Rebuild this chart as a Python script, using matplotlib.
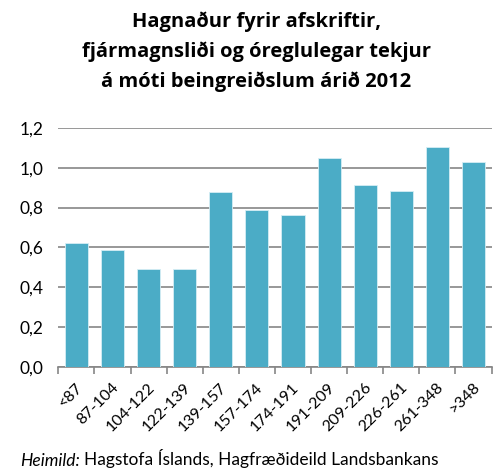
import matplotlib.pyplot as plt
import matplotlib.transforms as mtransforms
import numpy as np

plt.rcParams['font.family'] = ['Lato', 'DejaVu Sans']

flokkar = ['<87', '87-104', '104-122', '122-139', '139-157', '157-174', '174-191',
           '191-209', '209-226', '226-261', '261-348', '>348']
gildi = [0.62, 0.585, 0.49, 0.493, 0.876, 0.79, 0.764, 1.048, 0.913, 0.881, 1.103, 1.027]
yticks = [0.0, 0.2, 0.4, 0.6, 0.8, 1.0, 1.2]

fig = plt.figure(figsize=(4.99, 4.75), dpi=100)
ax = fig.add_axes([0.117, 0.227, 0.868, 0.504])

x = np.arange(len(flokkar))
ax.bar(x, gildi, width=0.64, color='#4BACC6', edgecolor='#D6EEF4', linewidth=0.6, zorder=3)

ax.set_xlim(-0.5, len(flokkar) - 0.5)
ax.set_ylim(0, 1.2)
ax.set_yticks(yticks)
ax.set_yticklabels([f'{v:.1f}'.replace('.', ',') for v in yticks], fontsize=12.5)
ax.yaxis.grid(True, color='#868686', linewidth=1.2, zorder=0)
ax.tick_params(axis='y', length=0, pad=11)

# category ticks at boundaries, labels at centres
ax.set_xticks(np.arange(-0.5, len(flokkar)), minor=False)
ax.set_xticklabels([''] * (len(flokkar) + 1))
ax.set_xticks(x, minor=True)
ax.set_xticklabels(flokkar, minor=True, rotation=45, ha='right', va='center',
                   rotation_mode='anchor', fontsize=11.5)
ax.tick_params(axis='x', which='major', length=5, color='#868686', width=1.2)
ax.tick_params(axis='x', which='minor', length=0, pad=13)
shift = mtransforms.ScaledTranslation(4 / 100, 0, fig.dpi_scale_trans)
for lbl in ax.get_xticklabels(minor=True):
    lbl.set_transform(lbl.get_transform() + shift)

for s in ['top', 'right', 'left']:
    ax.spines[s].set_visible(False)
ax.spines['bottom'].set_color('#868686')
ax.spines['bottom'].set_linewidth(1.2)

titill = ['Hagnaður fyrir afskriftir,', 'fjármagnsliði og óreglulegar tekjur',
          'á móti beingreiðslum árið 2012']
for i, lina in enumerate(titill):
    fig.text(0.514, 1 - (27.5 + 30 * i) / 475, lina, ha='center', va='baseline',
             fontsize=14.5, fontweight='bold', family=['Open Sans', 'DejaVu Sans'])

t = fig.text(0.04, 0.02, 'Heimild:', fontsize=12.5, style='italic', va='baseline')
fig.canvas.draw()
bb = t.get_window_extent()
fig.text(bb.x1 / fig.bbox.width + 0.008, 0.02, 'Hagstofa Íslands, Hagfræðideild Landsbankans',
         fontsize=12.5, va='baseline')

fig.savefig('out.png', dpi=100)
